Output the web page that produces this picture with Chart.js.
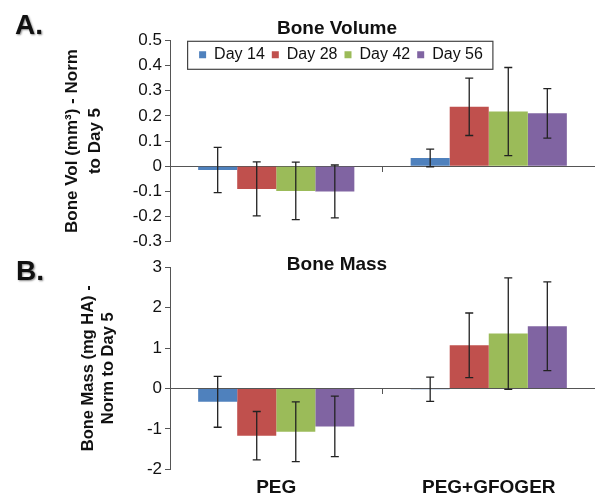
<!DOCTYPE html>
<html>
<head>
<meta charset="utf-8">
<script src="https://cdn.jsdelivr.net/npm/chart.js@4.4.0/dist/chart.umd.min.js"></script>
<style>
  html, body { margin: 0; padding: 0; background: #fff; overflow: hidden; }
  body { width: 595px; height: 494px; position: relative; font-family: "Liberation Sans", Arial, sans-serif; }
  .panel { position: absolute; left: 0; width: 595px; }
  .tag { position: absolute; z-index: 2; font-weight: bold; font-size: 28px; line-height: 28px; color: #111; text-shadow: 1px 1px 2px #888; }
</style>
</head>
<body>
<div class="panel" style="top:0;height:255px"><canvas id="volChart"></canvas></div>
<div class="panel" style="top:250px;height:249px"><canvas id="massChart"></canvas></div>
<div class="tag" style="left:15px;top:11px">A.</div>
<div class="tag" style="left:16px;top:257px">B.</div>
<script>
// groups and time points
var groups = ["PEG", "PEG+GFOGER"];
var days = ["Day 14", "Day 28", "Day 42", "Day 56"];
var colors = ["#4F81BD", "#C0504D", "#9BBB59", "#8064A2"];

// Bone volume (mm3), normalised to day 5
var volDay14 = [-0.015, 0.033];
var volDay28 = [-0.09, 0.236];
var volDay42 = [-0.098, 0.217];
var volDay56 = [-0.10, 0.21];
var volErr14 = [0.09, 0.035];
var volErr28 = [0.107, 0.114];
var volErr42 = [0.114, 0.175];
var volErr56 = [0.105, 0.098];
var volMin = -0.3, volMax = 0.5, volStep = 0.1;

// Bone mass (mg HA), normalised to day 5
var massDay14 = [-0.33, -0.02];
var massDay28 = [-1.17, 1.07];
var massDay42 = [-1.07, 1.36];
var massDay56 = [-0.94, 1.54];
var massErr14 = [0.63, 0.3];
var massErr28 = [0.6, 0.8];
var massErr42 = [0.74, 1.38];
var massErr56 = [0.75, 1.1];
var massMin = -2, massMax = 3, massStep = 1;

Chart.defaults.font.family = '"Liberation Sans", Arial, sans-serif';

function bars(values, errors) {
    return values.map(function (v, i) {
        return {
            label: days[i],
            data: v,
            errors: errors[i],
            backgroundColor: colors[i],
            borderWidth: 0,
            xAxisID: 'x',
            categoryPercentage: 0.735,
            barPercentage: 1.0
        };
    });
}

// draws the +/- error whiskers
var errorBars = {
    id: 'errorBars',
    afterDatasetsDraw: function (chart) {
        var ctx = chart.ctx, y = chart.scales.y;
        ctx.save();
        ctx.strokeStyle = '#222';
        ctx.lineWidth = 1.3;
        chart.data.datasets.forEach(function (ds, i) {
            chart.getDatasetMeta(i).data.forEach(function (bar, j) {
                var top = y.getPixelForValue(ds.data[j] + ds.errors[j]);
                var bot = y.getPixelForValue(ds.data[j] - ds.errors[j]);
                ctx.beginPath();
                ctx.moveTo(bar.x, top); ctx.lineTo(bar.x, bot);
                ctx.moveTo(bar.x - 4, top); ctx.lineTo(bar.x + 4, top);
                ctx.moveTo(bar.x - 4, bot); ctx.lineTo(bar.x + 4, bot);
                ctx.stroke();
            });
        });
        ctx.restore();
    }
};

// legend sits over the top of the plot: keep its layout slot thin,
// then nudge it into place, give it back its height so it is not clipped, and box it
var legendFrame = {
    id: 'legendFrame',
    afterLayout: function (chart) {
        var lg = chart.legend;
        if (!lg || !lg.options.display) return;
        var dx = 4, dy = 2;
        lg.left += dx; lg.right += dx; lg.top += dy;
        lg.bottom = lg.top + 40;
        lg.height = 40;
        lg.legendHitBoxes.forEach(function (h) { h.left += dx; h.top += dy; });
    },
    afterDraw: function (chart) {
        var lg = chart.legend;
        if (!lg || !lg.options.display || !lg.legendHitBoxes.length) return;
        var hb = lg.legendHitBoxes;
        var first = hb[0], last = hb[hb.length - 1];
        var left = first.left - 11.5, right = last.left + last.width + 10;
        var top = first.top - 7.5, bottom = first.top + first.height + 4.5;
        var ctx = chart.ctx;
        ctx.save();
        ctx.strokeStyle = '#444';
        ctx.lineWidth = 1.2;
        ctx.strokeRect(left, top, right - left, bottom - top);
        ctx.restore();
    }
};

function zeroAxis() {
    return {
        position: { y: 0 },
        offset: true,
        z: 1,
        grid: { offset: true, drawOnChartArea: false, tickLength: 5, color: '#555' },
        border: { color: '#555', width: 1 },
        ticks: { display: false }
    };
}

new Chart(document.getElementById('volChart'), {
    type: 'bar',
    data: {
        labels: groups,
        datasets: bars([volDay14, volDay28, volDay42, volDay56], [volErr14, volErr28, volErr42, volErr56])
    },
    plugins: [errorBars, legendFrame],
    options: {
        responsive: true,
        maintainAspectRatio: false,
        animation: false,
        layout: { padding: { left: 79, right: 0, top: 0, bottom: 0 } },
        plugins: {
            title: {
                display: true, text: 'Bone Volume', color: '#111',
                font: { size: 19, weight: 'bold' },
                padding: { top: 17, bottom: -2 }
            },
            legend: {
                display: true, position: 'top', maxHeight: 2.5,
                labels: { boxWidth: 7, boxHeight: 7, padding: 7, color: '#111', font: { size: 16 } }
            },
            tooltip: { enabled: false }
        },
        scales: {
            x: zeroAxis(),
            y: {
                min: volMin, max: volMax,
                ticks: { stepSize: volStep, color: '#111', font: { size: 17 }, padding: 3 },
                grid: { drawOnChartArea: false, tickLength: 5, color: '#555' },
                border: { color: '#555' },
                title: {
                    display: true, text: ['Bone Vol (mm³) - Norm', 'to Day 5'], color: '#111',
                    font: { size: 17, weight: 'bold', lineHeight: 1.32 },
                    padding: { top: -17.7, bottom: 0 }
                },
                afterFit: function (s) { s.width = 91; }
            }
        }
    }
});

new Chart(document.getElementById('massChart'), {
    type: 'bar',
    data: {
        labels: groups,
        datasets: bars([massDay14, massDay28, massDay42, massDay56], [massErr14, massErr28, massErr42, massErr56])
    },
    plugins: [errorBars],
    options: {
        responsive: true,
        maintainAspectRatio: false,
        animation: false,
        layout: { padding: { left: 79, right: 0, top: 0, bottom: 1 } },
        plugins: {
            title: {
                display: true, text: 'Bone Mass', color: '#111',
                font: { size: 19, weight: 'bold' },
                padding: { top: 3.6, bottom: -9 }
            },
            legend: { display: false },
            tooltip: { enabled: false }
        },
        scales: {
            x: zeroAxis(),
            x2: {
                type: 'category', labels: groups, position: 'bottom', offset: true,
                grid: { display: false }, border: { display: false },
                ticks: { color: '#111', font: { size: 19, weight: 'bold' }, padding: -1 }
            },
            y: {
                min: massMin, max: massMax,
                ticks: { stepSize: massStep, color: '#111', font: { size: 17 }, padding: 3 },
                grid: { drawOnChartArea: false, tickLength: 5, color: '#555' },
                border: { color: '#555' },
                title: {
                    display: true, text: ['Bone Mass (mg HA) -', 'Norm to Day 5'], color: '#111',
                    font: { size: 16.5, weight: 'bold', lineHeight: 1.22 },
                    padding: { top: -1, bottom: 0 }
                },
                afterFit: function (s) { s.width = 91; }
            }
        }
    }
});
</script>
</body>
</html>
